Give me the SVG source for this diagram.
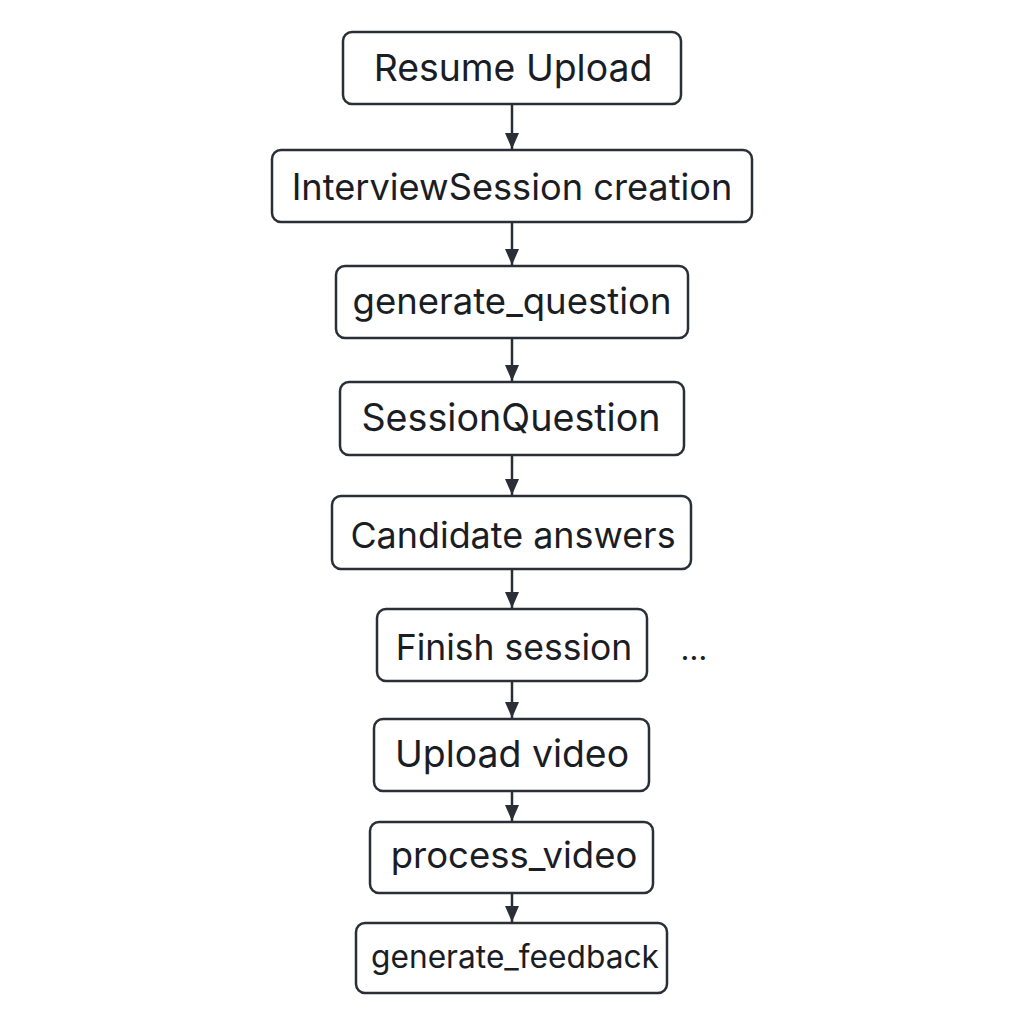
<svg xmlns="http://www.w3.org/2000/svg" width="1024" height="1024" viewBox="0 0 1024 1024">
<style>
.box{fill:#ffffff;stroke:#2a2e36;stroke-width:2.5}
.lbl{font-family:Inter,"Noto Sans","Liberation Sans",sans-serif;font-size:36.5px;fill:#1a1d24;text-anchor:middle}
.edge{stroke:#2a2e36;stroke-width:2.5;fill:none}
</style>
<defs>
<marker id="ah" viewBox="0 0 16 14" refX="16" refY="7" markerWidth="16" markerHeight="14" markerUnits="userSpaceOnUse" orient="auto">
<path d="M0,0 L16,7 L0,14 Z" fill="#2a2e36"/>
</marker>
</defs>
<rect width="1024" height="1024" fill="#ffffff"/>
<g id="connectors">
<line class="edge" x1="512" y1="104" x2="512" y2="149" marker-end="url(#ah)"/>
<line class="edge" x1="512" y1="223" x2="512" y2="265" marker-end="url(#ah)"/>
<line class="edge" x1="512" y1="339" x2="512" y2="381" marker-end="url(#ah)"/>
<line class="edge" x1="512" y1="456" x2="512" y2="495" marker-end="url(#ah)"/>
<line class="edge" x1="512" y1="570" x2="512" y2="608" marker-end="url(#ah)"/>
<line class="edge" x1="512" y1="682" x2="512" y2="718" marker-end="url(#ah)"/>
<line class="edge" x1="512" y1="792" x2="512" y2="821" marker-end="url(#ah)"/>
<line class="edge" x1="512" y1="893" x2="512" y2="922" marker-end="url(#ah)"/>
</g>
<g id="n1"><rect class="box" x="343" y="32" width="338" height="72" rx="9"/><text class="lbl" x="513" y="81" style="font-size:37.4px">Resume Upload</text></g>
<g id="n2"><rect class="box" x="272" y="150" width="480" height="72" rx="9"/><text class="lbl" x="512" y="200" style="font-size:36.2px">InterviewSession creation</text></g>
<g id="n3"><rect class="box" x="336" y="266" width="352" height="72" rx="9"/><text class="lbl" x="512" y="314">generate_question</text></g>
<g id="n4"><rect class="box" x="340" y="382" width="344" height="73" rx="9"/><text class="lbl" x="511" y="431" style="font-size:37.7px">SessionQuestion</text></g>
<g id="n5"><rect class="box" x="332" y="496" width="359" height="73" rx="9"/><text class="lbl" x="513" y="548" style="font-size:35.9px">Candidate answers</text></g>
<g id="n6"><rect class="box" x="377" y="609" width="270" height="72" rx="9"/><text class="lbl" x="514" y="660" style="font-size:35.5px">Finish session</text></g>
<text class="lbl" x="694" y="660" style="font-size:31px">…</text>
<g id="n7"><rect class="box" x="374" y="719" width="275" height="72" rx="9"/><text class="lbl" x="512" y="767" style="font-size:37.4px">Upload video</text></g>
<g id="n8"><rect class="box" x="370" y="822" width="283" height="71" rx="9"/><text class="lbl" x="514" y="868">process_video</text></g>
<g id="n9"><rect class="box" x="356" y="923" width="311" height="70" rx="9"/><text class="lbl" x="515" y="968" style="font-size:31.7px">generate_feedback</text></g>
</svg>
